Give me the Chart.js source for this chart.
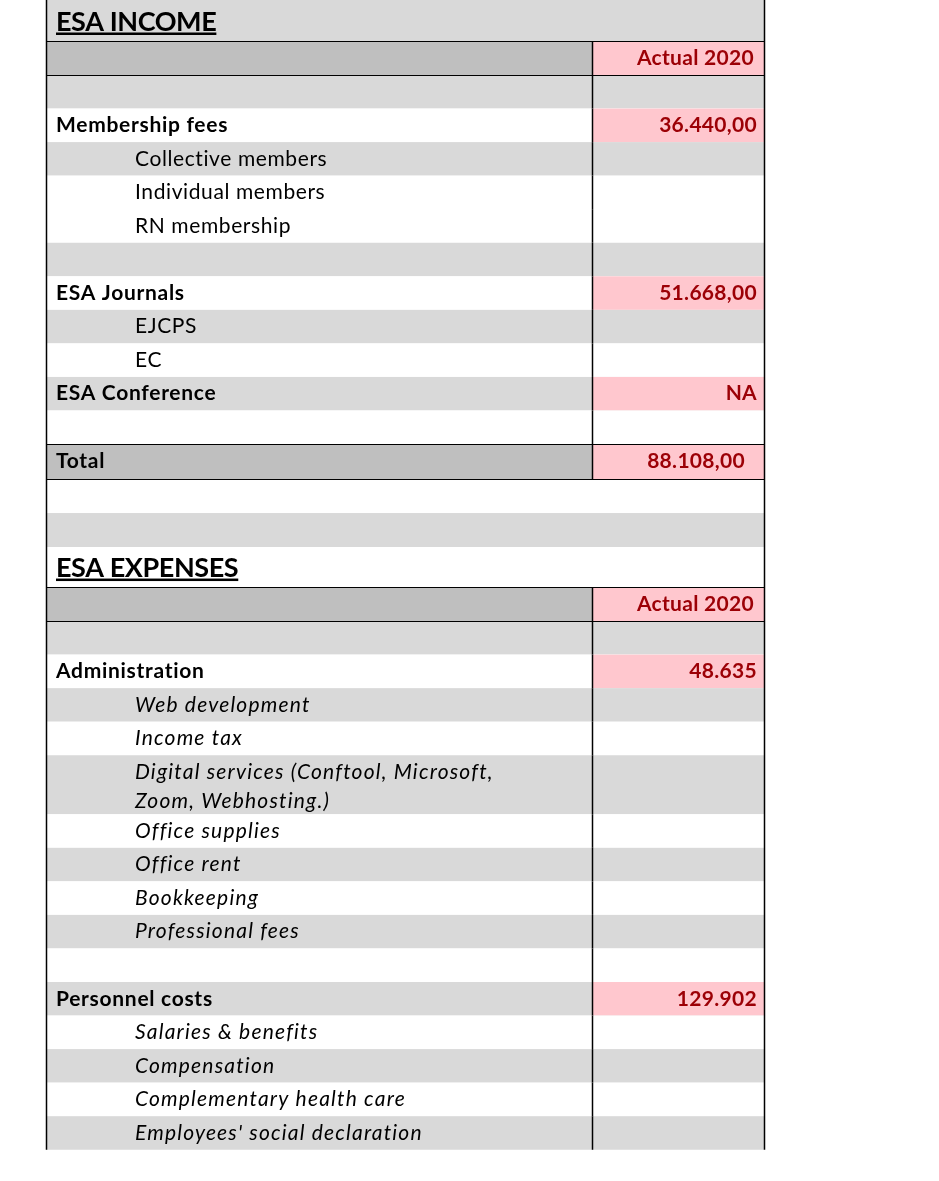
<!DOCTYPE html>
<html>
<head>
<meta charset="utf-8">
<script src="https://cdn.jsdelivr.net/npm/chart.js@4.4.0/dist/chart.umd.min.js"></script>
<style>
  html, body { margin: 0; padding: 0; background: #fff; }
  #wrap { width: 939px; height: 1181px; }
</style>
</head>
<body>
<div id="wrap"><canvas id="sheet" width="939" height="1181"></canvas></div>
<script>
// --- data ---
const incomeTitle = "ESA INCOME";
const expenseTitle = "ESA EXPENSES";
const columnTitle = "Actual 2020";

const incomeItems = ["", "Membership fees", "Collective members", "Individual members", "RN membership", "",
  "ESA Journals", "EJCPS", "EC", "ESA Conference", "", "Total"];
const incomeValues = [null, 36440, null, null, null, null, 51668, null, null, "NA", null, 88108];

const expenseItems = ["", "Administration", "Web development", "Income tax",
  "Digital services (Conftool, Microsoft,\nZoom, Webhosting.)", "Office supplies", "Office rent",
  "Bookkeeping", "Professional fees", "", "Personnel costs", "Salaries & benefits", "Compensation",
  "Complementary health care", "Employees' social declaration"];
const expenseValues = [null, 48635, null, null, null, null, null, null, null, null, 129902, null, null, null, null];

// --- look of each row (b = heading, i = item, t = total) ---
const incomeKinds = ["", "b", "i", "i", "i", "", "b", "i", "i", "b", "", "t"];
const incomeShade = [1, 0, 1, 0, 0, 1, 0, 1, 0, 1, 0, 2];
const expenseKinds = ["", "b", "i", "i", "i", "i", "i", "i", "i", "", "b", "i", "i", "i", "i"];
const expenseShade = [1, 0, 1, 0, 1, 0, 1, 0, 1, 0, 1, 0, 1, 0, 1];

const FILLS = ["#ffffff", "#d9d9d9", "#bfbfbf"];
const PINK = "#ffc7ce";
const RED = "#9c0006";
const FONT = "Lato, 'Liberation Sans', sans-serif";
const ROW = 33.55;

function fmt(v, decimals) {
  if (typeof v !== "number") return v;
  let parts = v.toFixed(decimals).split(".");
  let int = parts[0].replace(/\B(?=(\d{3})+(?!\d))/g, ".");
  return decimals ? int + "," + parts[1] : int;
}

// build the row list in sheet units (y axis runs 0..1181 top to bottom)
function buildRows() {
  const rows = [];
  let y = 0;
  const push = (h, r) => { rows.push(Object.assign({ y0: y, y1: y + h, divider: true }, r)); y += h; };

  push(41, { kind: "title", text: incomeTitle, shade: 1, divider: false });
  push(34, { kind: "head", shade: 2 });
  incomeItems.forEach((label, i) => {
    const v = incomeValues[i];
    push(incomeKinds[i] === "t" ? 35 : ROW, {
      kind: incomeKinds[i], text: label, shade: incomeShade[i],
      value: v == null ? null : fmt(v, 2), pink: v != null
    });
  });
  push(34, { shade: 0, divider: false });
  push(34, { shade: 1, divider: false });
  push(40, { kind: "title", text: expenseTitle, shade: 0, divider: false });
  push(34, { kind: "head", shade: 2 });
  expenseItems.forEach((label, i) => {
    const v = expenseValues[i];
    push(label.includes("\n") ? 59 : ROW, {
      kind: expenseKinds[i], text: label, shade: expenseShade[i], italic: true,
      value: v == null ? null : fmt(v, 0), pink: v != null
    });
  });
  return rows;
}

const sheetRows = buildRows();
const COL = { left: 46, split: 592, right: 764, labelX: 56, indentX: 135, valueX: 757 };
const ruled = [41, 75, 444, 479, 587, 621];

const tablePlugin = {
  id: "tablePlugin",
  beforeDraw(chart) {
    const { ctx } = chart;
    const xs = chart.scales.x, ys = chart.scales.y;
    const px = v => xs.getPixelForValue(v);
    const py = v => ys.getPixelForValue(v);
    ctx.save();
    ctx.fillStyle = "#fff";
    ctx.fillRect(0, 0, chart.width, chart.height);

    sheetRows.forEach(r => {
      const top = py(r.y0), bot = py(r.y1);
      ctx.fillStyle = FILLS[r.shade];
      ctx.fillRect(px(COL.left), top, px(COL.right) - px(COL.left), bot - top);
      if (r.pink || r.kind === "head" || r.kind === "t") {
        ctx.fillStyle = PINK;
        ctx.fillRect(px(COL.split), top, px(COL.right) - px(COL.split), bot - top);
      }
    });

    // grid lines
    ctx.strokeStyle = "#000";
    ctx.lineWidth = 1;
    ruled.forEach(v => {
      const y = Math.round(py(v)) + 0.5;
      ctx.beginPath(); ctx.moveTo(px(COL.left), y); ctx.lineTo(px(COL.right), y); ctx.stroke();
    });
    const end = sheetRows[sheetRows.length - 1].y1;
    ctx.lineWidth = 1.5;
    [COL.left, COL.right].forEach(x => {
      ctx.beginPath(); ctx.moveTo(px(x) + 0.5, py(0)); ctx.lineTo(px(x) + 0.5, py(end)); ctx.stroke();
    });
    sheetRows.forEach(r => {
      if (!r.divider) return;
      ctx.beginPath(); ctx.moveTo(px(COL.split) + 0.5, py(r.y0)); ctx.lineTo(px(COL.split) + 0.5, py(r.y1)); ctx.stroke();
    });

    // text
    ctx.textBaseline = "alphabetic";
    sheetRows.forEach(r => {
      const top = py(r.y0);
      if (r.kind === "title") {
        ctx.font = "bold 27px " + FONT;
        ctx.letterSpacing = "-0.4px";
        ctx.fillStyle = "#000";
        ctx.textAlign = "left";
        const base = top + (r.y1 - r.y0) - 10;
        ctx.fillText(r.text, px(COL.labelX), base);
        const w = ctx.measureText(r.text).width;
        ctx.fillRect(px(COL.labelX), base + 1.5, w, 2.5);
        return;
      }
      if (r.kind === "head") {
        ctx.font = "bold 21px " + FONT;
        ctx.letterSpacing = "0.3px";
        ctx.fillStyle = RED;
        ctx.textAlign = "right";
        ctx.fillText(columnTitle, px(754), top + 24);
        return;
      }
      if (r.text) {
        const lines = r.text.split("\n");
        const bold = r.kind === "b" || r.kind === "t";
        ctx.font = (bold ? "bold " : (r.italic ? "italic " : "")) + "21px " + FONT;
        ctx.letterSpacing = bold ? "0.7px" : (r.italic ? "1.2px" : "0.6px");
        ctx.fillStyle = "#000";
        ctx.textAlign = "left";
        const x = bold ? px(COL.labelX) : px(COL.indentX);
        lines.forEach((ln, k) => ctx.fillText(ln, x, top + 23.5 + k * 29));
      }
      if (r.value != null) {
        ctx.font = "bold 21px " + FONT;
        ctx.letterSpacing = "0.3px";
        ctx.fillStyle = RED;
        ctx.textAlign = "right";
        ctx.fillText(r.value, px(r.kind === "t" ? 745 : COL.valueX), top + 23.5);
      }
    });
    ctx.restore();
  }
};

new Chart(document.getElementById("sheet"), {
  type: "scatter",
  data: { datasets: [{ data: [] }] },
  options: {
    responsive: false,
    animation: false,
    events: [],
    layout: { padding: 0 },
    plugins: { legend: { display: false }, tooltip: { enabled: false } },
    scales: {
      x: { type: "linear", min: 0, max: 939, display: false },
      y: { type: "linear", min: 0, max: 1181, reverse: true, display: false }
    }
  },
  plugins: [tablePlugin]
});
</script>
</body>
</html>
